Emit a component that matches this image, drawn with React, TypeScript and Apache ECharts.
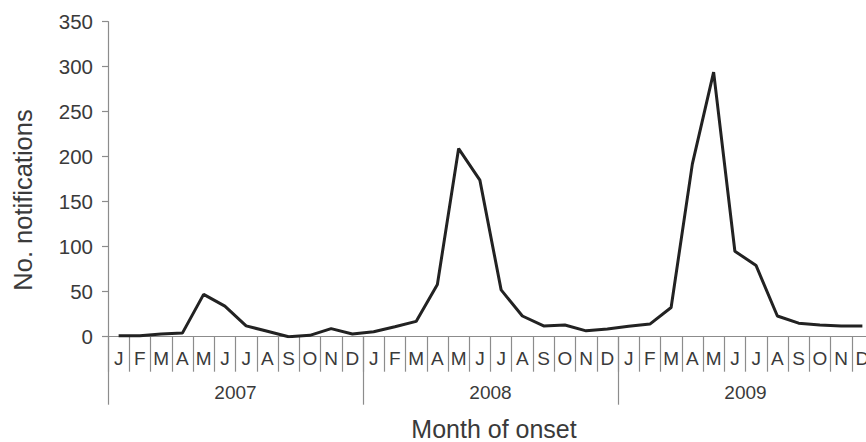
import React, { useEffect, useRef } from "react";
import * as echarts from "echarts";

const months = ["J","F","M","A","M","J","J","A","S","O","N","D","J","F","M","A","M","J","J","A","S","O","N","D","J","F","M","A","M","J","J","A","S","O","N","D"];
const years = ["2007", "2008", "2009"];
const notifications = [
  1, 1, 3, 4, 47, 34, 12, 6, 0, 1.5, 9, 3,
  5.5, 11, 17, 58, 209, 174, 52, 23, 12, 13, 6.5, 8.5,
  11.5, 14, 32.5, 192, 294, 95, 79, 23, 15, 13, 12, 12,
];
const yTitle = "No. notifications";
const xTitle = "Month of onset";

const AXIS = "#8c8c8c";
const TEXT = "#3a3a3a";
const FONT = "Liberation Sans, Arial, sans-serif";

export default function App() {
  const ref = useRef<HTMLDivElement>(null);
  useEffect(() => {
    if (!ref.current) return;
    const chart = echarts.init(ref.current, undefined, { renderer: "svg" });
    chart.setOption({
      animation: false,
      backgroundColor: "#ffffff",
      textStyle: { fontFamily: FONT },
      grid: { left: 108, right: 7, top: 21.7, bottom: 105.3, containLabel: false },
      xAxis: [
        {
          type: "category",
          data: months,
          position: "bottom",
          boundaryGap: true,
          axisLine: { show: true, lineStyle: { color: AXIS, width: 1.2 } },
          axisTick: { show: true, interval: 0, length: 35, lineStyle: { color: AXIS, width: 1.2 } },
          axisLabel: { interval: 0, margin: 12, fontSize: 19, color: TEXT, fontFamily: FONT },
          splitLine: { show: false },
        },
        {
          type: "category",
          data: years,
          position: "bottom",
          boundaryGap: true,
          axisLine: { show: false },
          axisTick: { show: true, interval: 0, length: 68, lineStyle: { color: AXIS, width: 1.2 } },
          axisLabel: { interval: 0, margin: 46, fontSize: 19, color: TEXT, fontFamily: FONT },
          splitLine: { show: false },
        },
      ],
      yAxis: {
        type: "value",
        min: 0,
        max: 350,
        interval: 50,
        axisLine: { show: true, lineStyle: { color: AXIS, width: 1.2 } },
        axisTick: { show: true, length: 6, lineStyle: { color: AXIS, width: 1.2 } },
        axisLabel: { margin: 15, fontSize: 20.5, color: TEXT, fontFamily: FONT },
        splitLine: { show: false },
      },
      graphic: [
        {
          type: "text",
          x: 23,
          y: 200,
          rotation: Math.PI / 2,
          style: { text: yTitle, fontSize: 25.5, fill: TEXT, fontFamily: FONT, align: "center", verticalAlign: "middle" },
        },
        {
          type: "text",
          x: 494,
          y: 429,
          style: { text: xTitle, fontSize: 25, fill: TEXT, fontFamily: FONT, align: "center", verticalAlign: "middle" },
        },
      ],
      series: [
        {
          type: "line",
          xAxisIndex: 0,
          data: notifications,
          symbol: "none",
          lineStyle: { color: "#222222", width: 3 },
          z: 5,
        },
      ],
    });
    return () => chart.dispose();
  }, []);
  return (
    <div style={{ width: 866, height: 442, position: "absolute", left: 0, top: 0, overflow: "hidden", background: "#fff" }}>
      <div ref={ref} style={{ width: 880, height: 442 }} />
    </div>
  );
}
